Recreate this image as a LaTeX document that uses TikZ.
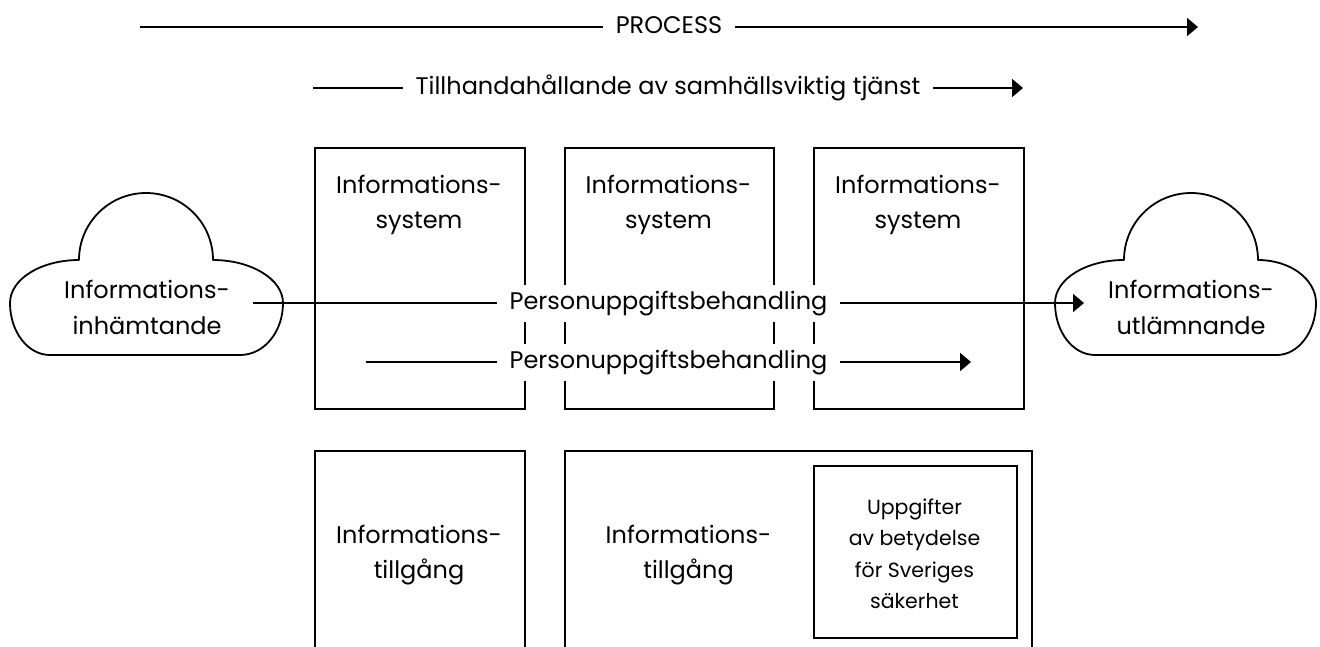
\documentclass[tikz,border=0pt]{standalone}
\usepackage{fontspec}
\setmainfont{Poppins}
\usetikzlibrary{arrows.meta}
\newcommand{\twol}[2]{\begin{tabular}[t]{@{}c@{}}#1\\#2\end{tabular}}
\begin{document}
\begin{tikzpicture}[x=1pt,y=-1pt,
  every node/.style={font=\fontsize{24}{35}\selectfont, inner sep=0pt},
  box/.style={draw, line width=2pt, anchor=north west},
  arr/.style={line width=2pt, -{Triangle[length=11pt,width=18pt]}},
  lab/.style={fill=white, inner xsep=13pt, inner ysep=7.5pt, text height=17pt, text depth=5pt},
  txt/.style={anchor=base},
  cloudst/.style={draw, line width=1.8pt, line join=round}]
\useasboundingbox (0,0) rectangle (1320,646);
\clip (0,0) rectangle (1320,646);
% top boxes
\node[box, minimum width=210pt, minimum height=261pt] (sys1) at (314,147) {};
\node[box, minimum width=209pt, minimum height=261pt] (sys2) at (564,147) {};
\node[box, minimum width=210pt, minimum height=261pt] (sys3) at (813,147) {};
\node[txt] (ts1) at (419,193) {\twol{Informations-}{system}};
\node[txt] (ts2) at (668.5,193) {\twol{Informations-}{system}};
\node[txt] (ts3) at (918,193) {\twol{Informations-}{system}};
% bottom boxes
\node[box, minimum width=210pt, minimum height=230pt] (as1) at (314,450) {};
\node[box, minimum width=467pt, minimum height=230pt] (as2) at (564,450) {};
\node[box, minimum width=203pt, minimum height=172pt] (sec) at (813,465) {};
\node[txt] (ta1) at (419,543) {\twol{Informations-}{tillgång}};
\node[txt] (ta2) at (688.5,543) {\twol{Informations-}{tillgång}};
\node[txt, font=\fontsize{20.5}{31.5}\selectfont] (tsec) at (914.5,514)
  {\begin{tabular}[t]{@{}c@{}}Uppgifter\\av betydelse\\för Sveriges\\säkerhet\end{tabular}};
% clouds
\draw[cloudst] (50,355) .. controls (28,355) and (10,332) .. (10,303)
  .. controls (10,279) and (41,260) .. (79,260)
  .. controls (79,223) and (109,193) .. (146,193)
  .. controls (183,193) and (213,223) .. (213,260)
  .. controls (251,260) and (283,279) .. (283,303)
  .. controls (283,332) and (264,355) .. (240,355) -- cycle;
\draw[cloudst] (1095,355) .. controls (1073,355) and (1055,332) .. (1055,303)
  .. controls (1055,279) and (1086,260) .. (1124,260)
  .. controls (1124,223) and (1154,193) .. (1191,193)
  .. controls (1228,193) and (1258,223) .. (1258,260)
  .. controls (1290,260) and (1316,279) .. (1316,303)
  .. controls (1316,332) and (1298,355) .. (1277,355) -- cycle;
\node[txt, font=\fontsize{24}{36.5}\selectfont] (src) at (147,298) {\twol{Informations-}{inhämtande}};
\node[txt, font=\fontsize{24}{36.5}\selectfont] (dst) at (1191,298) {\twol{Informations-}{utlämnande}};
% arrows
\coordinate (p0) at (140,27); \coordinate (p1) at (1198,27);
\draw[arr] (p0) -- node[lab]{PROCESS} (p1);
\coordinate (q0) at (313,88); \coordinate (q1) at (1023,88);
\draw[arr] (q0) -- node[lab]{Tillhandahållande av samhällsviktig tjänst} (q1);
\coordinate (r0) at (253,303); \coordinate (r1) at (1084,303);
\draw[arr] (r0) -- node[lab]{Personuppgiftsbehandling} (r1);
\coordinate (s0) at (366,362); \coordinate (s1) at (971,362);
\draw[arr] (s0) -- node[lab]{Personuppgiftsbehandling} (s1);
\end{tikzpicture}
\end{document}
